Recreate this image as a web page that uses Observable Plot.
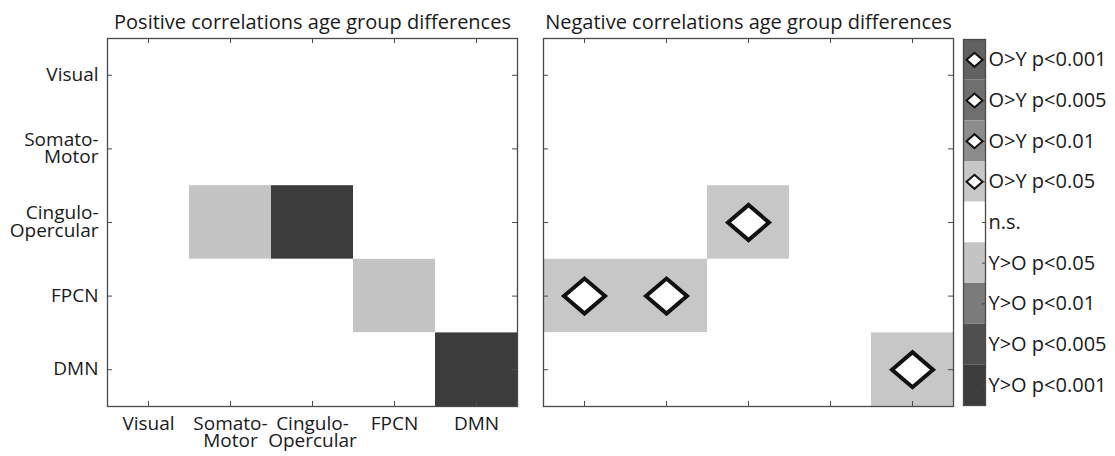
<!DOCTYPE html>
<html>
<head>
<meta charset="utf-8">
<script src="https://cdn.jsdelivr.net/npm/d3@7"></script>
<script src="https://cdn.jsdelivr.net/npm/@observablehq/plot@0.6"></script>
<style>
  body { margin: 0; background: #fff; }
  #chart { position: relative; width: 1115px; height: 456px; font-family: "Open Sans", sans-serif; }
  #chart svg { position: absolute; top: 0; background: transparent; overflow: visible; }
</style>
</head>
<body>
<div id="chart"></div>
<script>
// Brain networks (rows top→bottom, columns left→right)
const networks = ["Visual", "Somato-Motor", "Cingulo-Opercular", "FPCN", "DMN"];
const networkLabels = ["Visual", "Somato-\nMotor", "Cingulo-\nOpercular", "FPCN", "DMN"];

// Significance levels, top to bottom of the colour bar
const levels = [
  "O>Y p<0.001", "O>Y p<0.005", "O>Y p<0.01", "O>Y p<0.05",
  "n.s.",
  "Y>O p<0.05", "Y>O p<0.01", "Y>O p<0.005", "Y>O p<0.001"
];
const levelColors = [
  "#616161", "#6f6f6f", "#8c8c8c", "#c7c7c7",
  "#ffffff",
  "#c4c4c4", "#7b7b7b", "#4f4f4f", "#3c3c3c"
];
// Levels where older adults exceed younger adults get a diamond marker
const diamondLevels = levels.slice(0, 4);

// Cell codes: 0 = n.s., +k = O>Y, -k = Y>O, k = 1 (p<0.05) … 4 (p<0.001)
const positiveGrid = [
  [0, 0, 0, 0, 0],
  [0, 0, 0, 0, 0],
  [0, -1, -4, 0, 0],
  [0, 0, 0, -1, 0],
  [0, 0, 0, 0, -4]
];
const negativeGrid = [
  [0, 0, 0, 0, 0],
  [0, 0, 0, 0, 0],
  [0, 0, 1, 0, 0],
  [1, 1, 0, 0, 0],
  [0, 0, 0, 0, 1]
];

const titles = [
  "Positive correlations age group differences",
  "Negative correlations age group differences"
];

const ink = "#1a1a1a";
const axisStroke = "#4a4a4a";
const fontSize = 20;       // titles and colour-bar labels
const tickFontSize = 19;   // network names
const H = 456, mTop = 38, mBottom = 50;
const frameH = H - mTop - mBottom;
const tickLen = 5;

const toCells = (grid) =>
  grid.flatMap((row, i) => row.map((code, j) => ({
    row: networks[i], col: networks[j], level: levels[4 - code]
  })));

const labelOf = (d) => networkLabels[networks.indexOf(d)];

// Wide, slightly flattened diamond used inside matrix cells
const cellDiamond = {
  draw(ctx) {
    const w = 20.5, h = 17.5;
    ctx.moveTo(-w, 0); ctx.lineTo(0, -h); ctx.lineTo(w, 0); ctx.lineTo(0, h); ctx.closePath();
  }
};
const keyDiamond = {
  draw(ctx) {
    const w = 8, h = 7;
    ctx.moveTo(-w, 0); ctx.lineTo(0, -h); ctx.lineTo(w, 0); ctx.lineTo(0, h); ctx.closePath();
  }
};

const baseStyle = { fontFamily: "'Open Sans', sans-serif", fontSize: fontSize + "px", color: ink, background: "transparent" };

function panel(grid, title, showLabels, left, width, mLeft, mRight) {
  const frameW = width - mLeft - mRight;
  const cells = toCells(grid);
  const svg = Plot.plot({
    width, height: H,
    marginLeft: mLeft, marginRight: mRight, marginTop: mTop, marginBottom: mBottom,
    style: baseStyle,
    x: { domain: networks, padding: 0, round: false, axis: null, label: null },
    y: { domain: networks, padding: 0, round: false, axis: null, label: null },
    color: { type: "ordinal", domain: levels, range: levelColors },
    marks: [
      Plot.cell(cells, { x: "col", y: "row", fill: "level" }),
      Plot.dot(cells.filter(d => diamondLevels.includes(d.level)), {
        x: "col", y: "row", symbol: cellDiamond, r: 10,
        fill: "white", stroke: "#111", strokeWidth: 4, strokeLinejoin: "miter"
      }),
      // inward ticks on all four sides
      Plot.tickX(networks, { x: d => d, insetTop: frameH - tickLen, stroke: axisStroke }),
      Plot.tickX(networks, { x: d => d, insetBottom: frameH - tickLen, stroke: axisStroke }),
      Plot.tickY(networks, { y: d => d, insetRight: frameW - tickLen, stroke: axisStroke }),
      Plot.tickY(networks, { y: d => d, insetLeft: frameW - tickLen, stroke: axisStroke }),
      showLabels ? Plot.axisX({ tickSize: 0, tickPadding: 12, tickFormat: labelOf, label: null, fontSize: tickFontSize, lineHeight: 0.88, fill: ink }) : null,
      showLabels ? Plot.axisY({ tickSize: 0, tickPadding: 9, tickFormat: labelOf, label: null, fontSize: tickFontSize, lineHeight: 0.9, fill: ink }) : null,
      Plot.frame({ stroke: axisStroke, strokeWidth: 1.3 }),
      Plot.text([title], { frameAnchor: "top", lineAnchor: "bottom", dy: -10, fontSize, fill: ink })
    ]
  });
  svg.style.left = left + "px";
  return svg;
}

function colorBar(left, width, mLeft, mRight) {
  const frameW = width - mLeft - mRight;
  const svg = Plot.plot({
    width, height: H,
    marginLeft: mLeft, marginRight: mRight, marginTop: 39, marginBottom: 51,
    style: baseStyle,
    y: { domain: levels, padding: 0, round: false, axis: null, label: null },
    color: { type: "ordinal", domain: levels, range: levelColors },
    marks: [
      Plot.cell(levels, { y: d => d, fill: d => d }),
      Plot.tickY(levels, { y: d => d, insetLeft: frameW - 3, stroke: axisStroke }),
      Plot.dot(diamondLevels, {
        y: d => d, symbol: keyDiamond, r: 5,
        fill: "white", stroke: "#111", strokeWidth: 2, strokeLinejoin: "miter"
      }),
      Plot.axisY({ anchor: "right", tickSize: 0, tickPadding: 3, label: null, fontSize, fill: ink }),
      Plot.frame({ stroke: axisStroke, strokeWidth: 1.3 })
    ]
  });
  svg.style.left = left + "px";
  return svg;
}

const chart = document.getElementById("chart");
chart.append(
  panel(positiveGrid, titles[0], true, 0, 530, 107, 13),
  panel(negativeGrid, titles[1], false, 530, 436, 13, 13),
  colorBar(950, 165, 13, 130)
);
</script>
</body>
</html>
